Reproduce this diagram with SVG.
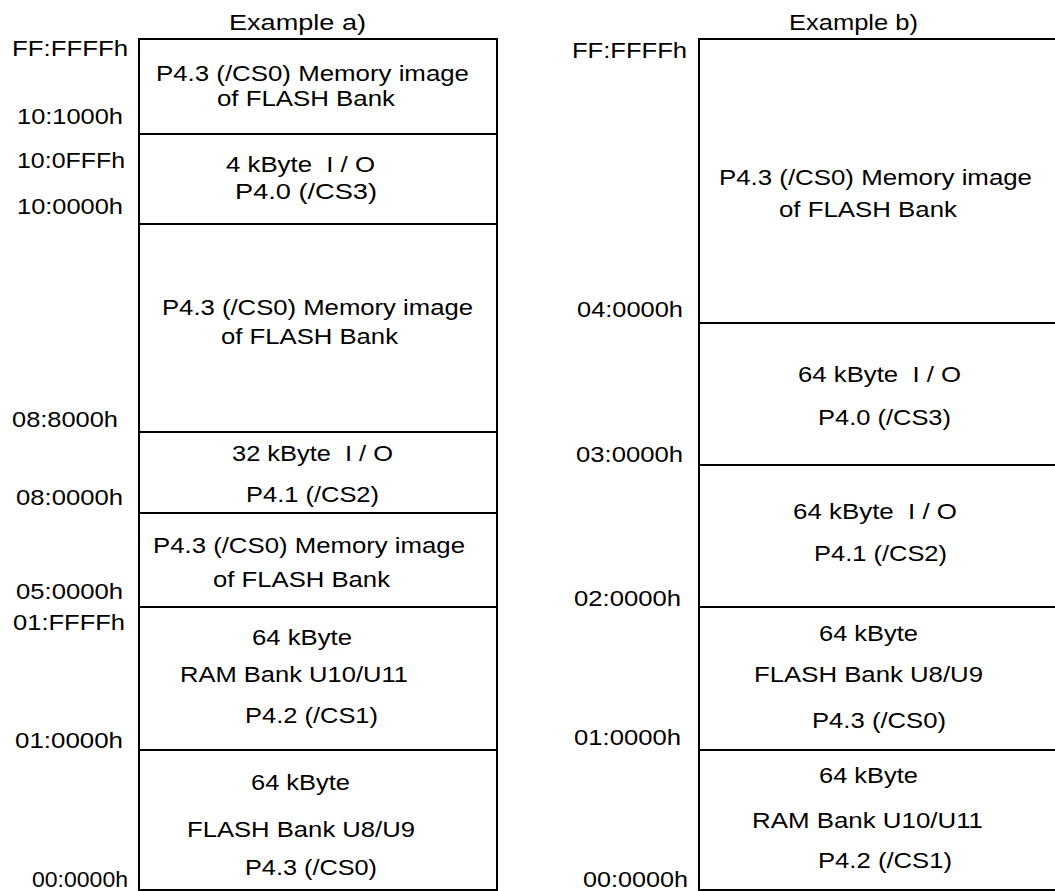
<svg xmlns="http://www.w3.org/2000/svg" width="1055" height="891" viewBox="0 0 1055 891">
<style>
.t{font-family:"Liberation Sans",Arial,sans-serif;font-size:22px;fill:#000;white-space:pre}
.box{fill:#fff;stroke:#000;stroke-width:2}
</style>
<rect width="1055" height="891" fill="#fff"/>
<g id="titles">
<text class="t" x="229" y="30" textLength="137" lengthAdjust="spacingAndGlyphs">Example a)</text>
<text class="t" x="789" y="30" textLength="129" lengthAdjust="spacingAndGlyphs">Example b)</text>
</g>
<g id="addr-a">
<text class="t" x="12" y="56" textLength="116" lengthAdjust="spacingAndGlyphs">FF:FFFFh</text>
<text class="t" x="17" y="124" textLength="106" lengthAdjust="spacingAndGlyphs">10:1000h</text>
<text class="t" x="17" y="168" textLength="108" lengthAdjust="spacingAndGlyphs">10:0FFFh</text>
<text class="t" x="17" y="214" textLength="106" lengthAdjust="spacingAndGlyphs">10:0000h</text>
<text class="t" x="12" y="427" textLength="106" lengthAdjust="spacingAndGlyphs">08:8000h</text>
<text class="t" x="16" y="505" textLength="107" lengthAdjust="spacingAndGlyphs">08:0000h</text>
<text class="t" x="16" y="599" textLength="107" lengthAdjust="spacingAndGlyphs">05:0000h</text>
<text class="t" x="13" y="630" textLength="112" lengthAdjust="spacingAndGlyphs">01:FFFFh</text>
<text class="t" x="15" y="748" textLength="108" lengthAdjust="spacingAndGlyphs">01:0000h</text>
<text class="t" x="32" y="887" textLength="96" lengthAdjust="spacingAndGlyphs">00:0000h</text>
</g>
<g id="addr-b">
<text class="t" x="572" y="58" textLength="115" lengthAdjust="spacingAndGlyphs">FF:FFFFh</text>
<text class="t" x="577" y="317" textLength="106" lengthAdjust="spacingAndGlyphs">04:0000h</text>
<text class="t" x="576" y="462" textLength="107" lengthAdjust="spacingAndGlyphs">03:0000h</text>
<text class="t" x="574" y="606" textLength="107" lengthAdjust="spacingAndGlyphs">02:0000h</text>
<text class="t" x="574" y="745" textLength="107" lengthAdjust="spacingAndGlyphs">01:0000h</text>
<text class="t" x="583" y="887" textLength="105" lengthAdjust="spacingAndGlyphs">00:0000h</text>
</g>
<g id="a1">
<rect class="box" x="139" y="39" width="358" height="95"/>
<text class="t" x="156" y="81" textLength="313" lengthAdjust="spacingAndGlyphs">P4.3 (/CS0) Memory image</text>
<text class="t" x="217" y="106" textLength="178" lengthAdjust="spacingAndGlyphs">of FLASH Bank</text>
</g>
<g id="a2">
<rect class="box" x="139" y="134" width="358" height="90"/>
<text class="t" x="226" y="172" textLength="149" lengthAdjust="spacingAndGlyphs">4 kByte  I / O</text>
<text class="t" x="235" y="199" textLength="142" lengthAdjust="spacingAndGlyphs">P4.0 (/CS3)</text>
</g>
<g id="a3">
<rect class="box" x="139" y="224" width="358" height="208"/>
<text class="t" x="162" y="315" textLength="311" lengthAdjust="spacingAndGlyphs">P4.3 (/CS0) Memory image</text>
<text class="t" x="221" y="344" textLength="177" lengthAdjust="spacingAndGlyphs">of FLASH Bank</text>
</g>
<g id="a4">
<rect class="box" x="139" y="432" width="358" height="81"/>
<text class="t" x="232" y="461" textLength="161" lengthAdjust="spacingAndGlyphs">32 kByte  I / O</text>
<text class="t" x="246" y="502" textLength="133" lengthAdjust="spacingAndGlyphs">P4.1 (/CS2)</text>
</g>
<g id="a5">
<rect class="box" x="139" y="513" width="358" height="94"/>
<text class="t" x="153" y="553" textLength="312" lengthAdjust="spacingAndGlyphs">P4.3 (/CS0) Memory image</text>
<text class="t" x="213" y="587" textLength="177" lengthAdjust="spacingAndGlyphs">of FLASH Bank</text>
</g>
<g id="a6">
<rect class="box" x="139" y="607" width="358" height="143"/>
<text class="t" x="252" y="645" textLength="100" lengthAdjust="spacingAndGlyphs">64 kByte</text>
<text class="t" x="180" y="682" textLength="228" lengthAdjust="spacingAndGlyphs">RAM Bank U10/U11</text>
<text class="t" x="245" y="723" textLength="133" lengthAdjust="spacingAndGlyphs">P4.2 (/CS1)</text>
</g>
<g id="a7">
<rect class="box" x="139" y="750" width="358" height="140"/>
<text class="t" x="251" y="790" textLength="99" lengthAdjust="spacingAndGlyphs">64 kByte</text>
<text class="t" x="187" y="837" textLength="228" lengthAdjust="spacingAndGlyphs">FLASH Bank U8/U9</text>
<text class="t" x="245" y="875" textLength="132" lengthAdjust="spacingAndGlyphs">P4.3 (/CS0)</text>
</g>
<g id="b1">
<rect class="box" x="699" y="39" width="400" height="284"/>
<text class="t" x="719" y="185" textLength="313" lengthAdjust="spacingAndGlyphs">P4.3 (/CS0) Memory image</text>
<text class="t" x="779" y="217" textLength="178" lengthAdjust="spacingAndGlyphs">of FLASH Bank</text>
</g>
<g id="b2">
<rect class="box" x="699" y="323" width="400" height="142"/>
<text class="t" x="798" y="382" textLength="163" lengthAdjust="spacingAndGlyphs">64 kByte  I / O</text>
<text class="t" x="818" y="425" textLength="133" lengthAdjust="spacingAndGlyphs">P4.0 (/CS3)</text>
</g>
<g id="b3">
<rect class="box" x="699" y="465" width="400" height="142"/>
<text class="t" x="793" y="519" textLength="164" lengthAdjust="spacingAndGlyphs">64 kByte  I / O</text>
<text class="t" x="814" y="561" textLength="133" lengthAdjust="spacingAndGlyphs">P4.1 (/CS2)</text>
</g>
<g id="b4">
<rect class="box" x="699" y="607" width="400" height="143"/>
<text class="t" x="819" y="641" textLength="99" lengthAdjust="spacingAndGlyphs">64 kByte</text>
<text class="t" x="754" y="682" textLength="229" lengthAdjust="spacingAndGlyphs">FLASH Bank U8/U9</text>
<text class="t" x="812" y="728" textLength="134" lengthAdjust="spacingAndGlyphs">P4.3 (/CS0)</text>
</g>
<g id="b5">
<rect class="box" x="699" y="750" width="400" height="140"/>
<text class="t" x="819" y="783" textLength="99" lengthAdjust="spacingAndGlyphs">64 kByte</text>
<text class="t" x="752" y="828" textLength="231" lengthAdjust="spacingAndGlyphs">RAM Bank U10/U11</text>
<text class="t" x="818" y="868" textLength="134" lengthAdjust="spacingAndGlyphs">P4.2 (/CS1)</text>
</g>
<g id="connectors"></g>
</svg>
